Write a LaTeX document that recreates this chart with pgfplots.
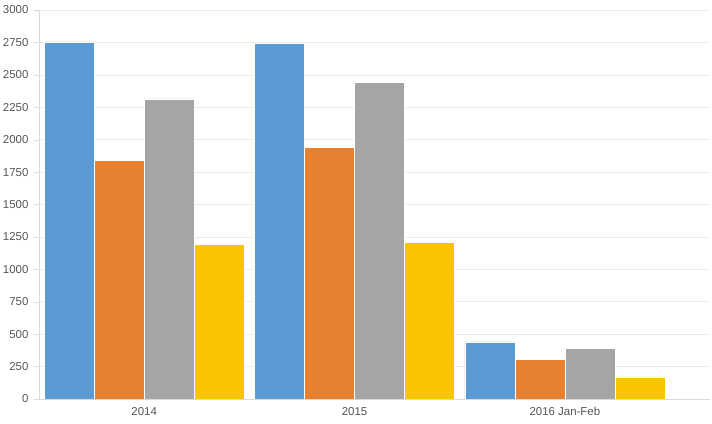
\documentclass[border=0pt]{standalone}
\usepackage{pgfplots}
\pgfplotsset{compat=1.18}
\usepackage{fontspec}
\setmainfont{Liberation Sans}
\definecolor{cblue}{HTML}{5B9BD5}
\definecolor{corange}{HTML}{E8812F}
\definecolor{cgray}{HTML}{A5A5A5}
\definecolor{cyellow}{HTML}{FBC400}
\definecolor{gridc}{HTML}{EBEBEB}
\definecolor{axc}{HTML}{D9D9D9}
\definecolor{txt}{HTML}{555555}
\begin{document}
\begin{tikzpicture}
\begin{axis}[
  scale only axis,
  width=671bp, height=389bp,
  xmin=-0.5, xmax=2.69,
  ymin=0, ymax=3000,
  ytick={0,250,...,3000},
  xtick={0,1,2},
  xticklabels={2014,2015,2016 Jan-Feb},
  extra x ticks={-0.5,0.5,1.5},
  extra x tick labels={},
  extra x tick style={major tick length=5bp, tick style={axc}, xticklabel=, grid=none},
  x tick style={draw=none},
  y tick style={axc},
  major tick length=5bp,
  tick align=outside,
  ymajorgrids, grid style={gridc, line width=0.6pt},
  axis x line*=bottom, axis y line*=left,
  axis line style={axc, line width=0.8pt},
  every axis y line/.append style={-},
  every axis x line/.append style={-},
  tick label style={font=\fontsize{11.5}{13}\selectfont, text=txt},
  /pgf/number format/assume math mode=true,
  /pgf/number format/set thousands separator={},
  yticklabel style={xshift=-2bp},
  xticklabel style={yshift=0bp},
  ybar=0pt, bar width=0.2375,
  enlarge x limits=false,
]
\addplot[fill=cblue, draw=white, line width=0.3pt] coordinates {(0,2755) (1,2745) (2,440)};
\addplot[fill=corange, draw=white, line width=0.3pt] coordinates {(0,1843) (1,1941) (2,306)};
\addplot[fill=cgray, draw=white, line width=0.3pt] coordinates {(0,2314) (1,2442) (2,393)};
\addplot[fill=cyellow, draw=white, line width=0.3pt] coordinates {(0,1195) (1,1208) (2,170)};
\end{axis}
\pgfresetboundingbox
\path ([shift={(-39bp,-25bp)}]current axis.south west) rectangle ([shift={(2bp,10bp)}]current axis.north east);
\end{tikzpicture}
\end{document}
